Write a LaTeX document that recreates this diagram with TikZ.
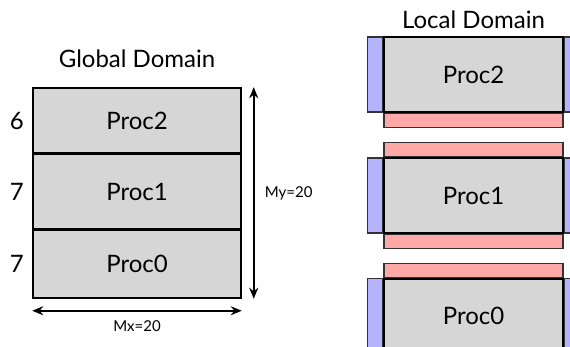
\documentclass[tikz,border=0pt]{standalone}
\usepackage{fontspec}
\setmainfont{Lato}
\usetikzlibrary{arrows.meta,positioning}
\definecolor{procgray}{HTML}{D6D6D6}
\definecolor{ghostblue}{HTML}{B3B3FF}
\definecolor{ghostred}{HTML}{FFA8A8}

\begin{document}
\begin{tikzpicture}[x=1pt, y=-1pt,
  node distance=0pt,
  proc/.style={draw, line width=1.5pt, fill=procgray, inner sep=0pt, font=\fontsize{24}{28}\selectfont},
  gproc/.style={proc, minimum width=208pt},
  lproc/.style={proc, minimum width=179pt, minimum height=75pt},
  ghostx/.style={draw=black!80, line width=1.3pt, fill=ghostblue, inner sep=0pt, minimum width=15pt, minimum height=75pt},
  ghosty/.style={draw=black!80, line width=1.3pt, fill=ghostred, inner sep=0pt, minimum width=179pt, minimum height=14pt},
  title/.style={font=\fontsize{24}{28}\selectfont},
  count/.style={font=\fontsize{24}{28}\selectfont},
  dim/.style={{Stealth[length=11pt,width=9pt]}-{Stealth[length=11pt,width=9pt]}, line width=1.6pt},
  dimlabel/.style={font=\fontsize{15}{18}\selectfont}
]
  \useasboundingbox (0,0) rectangle (570,347);

  % global domain
  \node[gproc, minimum height=65pt] (g2) at (137,120.5) {Proc2};
  \node[gproc, minimum height=74pt, below=of g2] (g1) {Proc1};
  \node[gproc, minimum height=68pt, below=of g1] (g0) {Proc0};
  \node[title, above=16pt of g2] (gtitle) {Global Domain};
  \node[count, left=5pt of g2] (n2) {6};
  \node[count, left=5pt of g1] (n1) {7};
  \node[count, left=5pt of g0] (n0) {7};
  \draw[dim] ([xshift=12pt]g2.north east) -- node[dimlabel, right=7pt] (my) {My=20} ([xshift=12pt]g0.south east);
  \draw[dim] ([yshift=-12pt]g0.south west) -- node[dimlabel, below=6pt] (mx) {Mx=20} ([yshift=-12pt]g0.south east);

  % local domain
  \node[lproc] (l2) at (473.5,74.5) {Proc2};
  \node[ghosty, below=of l2] (l2s) {};
  \node[ghosty, below=14pt of l2s] (l1n) {};
  \node[lproc, below=of l1n] (l1) {Proc1};
  \node[ghosty, below=of l1] (l1s) {};
  \node[ghosty, below=14pt of l1s] (l0n) {};
  \node[lproc, minimum height=74pt, below=of l0n] (l0) {Proc0};
  \foreach \p in {l2,l1,l0} {
    \node[ghostx, left=of \p] (\p w) {};
    \node[ghostx, right=of \p] (\p e) {};
  }
  \node[title, above=4pt of l2] (ltitle) {Local Domain};
\end{tikzpicture}
\end{document}
